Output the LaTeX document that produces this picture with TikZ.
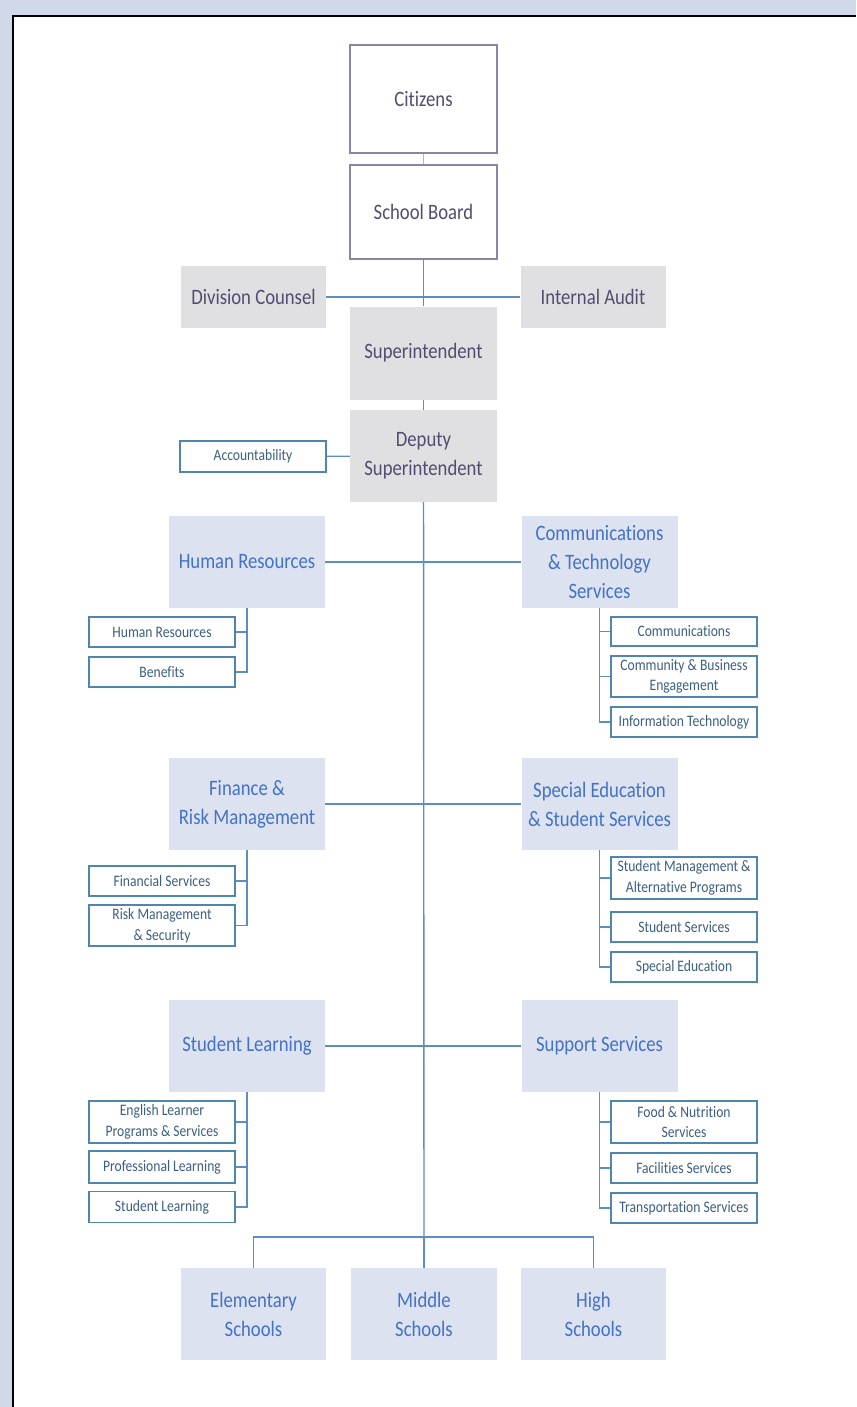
\documentclass[tikz,border=0pt]{standalone}
\usepackage{fontspec}
\setmainfont{Carlito}[FakeStretch=0.85,Ligatures=NoCommon]
\usepackage{tikz}

\definecolor{bgblue}{HTML}{CFD9E9}
\definecolor{purpline}{HTML}{8A84A6}
\definecolor{purptext}{HTML}{524D6E}
\definecolor{greyfill}{HTML}{E0E0E3}
\definecolor{bluefill}{HTML}{DCE2F0}
\definecolor{bluetext}{HTML}{4472C4}
\definecolor{subline}{HTML}{4F86AE}
\definecolor{subtext}{HTML}{3D5F80}
\definecolor{linkblue}{HTML}{5B8FBF}

\begin{document}
\begin{tikzpicture}[x=1pt,y=-1pt]

\tikzset{top/.style = {shape=rectangle,draw=purpline,line width=1.2pt,fill=white,
  text=purptext,font=\fontsize{22}{29}\selectfont,align=center,inner sep=0pt}}
\tikzset{office/.style = {shape=rectangle,fill=greyfill,text=purptext,
  font=\fontsize{22}{29}\selectfont,align=center,inner sep=0pt}}
\tikzset{dept/.style = {shape=rectangle,fill=bluefill,text=bluetext,
  font=\fontsize{22}{29}\selectfont,align=center,inner sep=0pt,
  minimum width=156pt,minimum height=92pt}}
\tikzset{unit/.style = {shape=rectangle,draw=subline,line width=1.2pt,fill=white,text=subtext,
  font=\fontsize{16}{20.5}\selectfont,align=center,inner sep=0pt,minimum width=146pt}}
\tikzset{link/.style = {draw=linkblue,line width=1.4pt}}
\tikzset{twig/.style = {draw=linkblue,line width=1.1pt}}

\useasboundingbox (0,0) rectangle (856,1407);
\fill[bgblue] (0,0) rectangle (856,1407);
\fill[white] (13,16) rectangle (856,1407);
\draw[black,line width=2.5pt] (13,1407) -- (13,16) -- (856,16);

\node[top,minimum width=147pt,minimum height=108pt] (cit) at (423.5,99) {Citizens};
\node[top,minimum width=147pt,minimum height=94pt] (board) at (423.5,212) {School Board};

\node[office,minimum width=145pt,minimum height=62pt] (dc) at (253.5,297) {Division Counsel};
\node[office,minimum width=145pt,minimum height=62pt] (ia) at (593,297) {Internal Audit};
\node[office,minimum width=147pt,minimum height=93pt] (sup) at (423.5,353) {Superintendent};
\node[office,minimum width=147pt,minimum height=92pt] (dep) at (423.5,456) {Deputy\\Superintendent};
\node[unit,minimum height=31pt] (acc) at (253,456.5) {Accountability};

\node[dept] (hr) at (247,562) {Human Resources};
\node[dept] (cts) at (599.5,562) {Communications\\\& Technology\\Services};
\node[unit,minimum height=30pt] (hr1) at (162,632) {Human Resources};
\node[unit,minimum height=30pt] (hr2) at (162,672) {Benefits};
\node[unit,minimum height=29pt] (ct1) at (684,631.5) {Communications};
\node[unit,minimum height=41pt] (ct2) at (684,676.5) {Community \& Business\\Engagement};
\node[unit,minimum height=30pt] (ct3) at (684,722) {Information Technology};

\node[dept] (frm) at (247,804) {Finance \&\\Risk Management};
\node[dept] (sss) at (599.5,804) {Special Education\\\& Student Services};
\node[unit,minimum height=30pt] (fr1) at (162,881) {Financial Services};
\node[unit,minimum height=41pt] (fr2) at (162,925.5) {Risk Management\\\& Security};
\node[unit,minimum height=42pt] (ss1) at (684,878) {Student Management \&\\Alternative Programs};
\node[unit,minimum height=30pt] (ss2) at (684,927) {Student Services};
\node[unit,minimum height=30pt] (ss3) at (684,967) {Special Education};

\node[dept] (sl) at (247,1046) {Student Learning};
\node[dept] (sps) at (599.5,1046) {Support Services};
\node[unit,minimum height=42pt] (sl1) at (162,1122) {English Learner\\Programs \& Services};
\node[unit,minimum height=32pt] (sl2) at (162,1167) {Professional Learning};
\node[unit,minimum height=31pt] (sl3) at (162,1207) {Student Learning};
\node[unit,minimum height=42pt] (sp1) at (684,1122) {Food \& Nutrition\\Services};
\node[unit,minimum height=30pt] (sp2) at (684,1168) {Facilities Services};
\node[unit,minimum height=30pt] (sp3) at (684,1208) {Transportation Services};

\node[dept,minimum width=145pt] (elem) at (253.5,1314) {Elementary\\Schools};
\node[dept,minimum width=146pt] (mid) at (424,1314) {Middle\\Schools};
\node[dept,minimum width=145pt] (high) at (593.5,1314) {High\\Schools};

\coordinate (bar) at (424,1237);

\draw[draw=linkblue!60,line width=1pt] (cit) to (board);
\draw[link] (board) to (sup);
\draw[link] (dc) to (ia);
\draw[link] (sup) to (dep);
\draw[link] (acc) to (dep);
\draw[link] (dep) to (bar);

\draw[link] (hr) to (cts);
\draw[link] (frm) to (sss);
\draw[link] (sl) to (sps);

\draw[twig] (hr.south) |- (hr1.east);
\draw[twig] (hr.south) |- (hr2.east);
\draw[twig] (cts.south) |- (ct1.west);
\draw[twig] (cts.south) |- (ct2.west);
\draw[twig] (cts.south) |- (ct3.west);

\draw[twig] (frm.south) |- (fr1.east);
\draw[twig] (frm.south) |- (fr2.east);
\draw[twig] (sss.south) |- (ss1.west);
\draw[twig] (sss.south) |- (ss2.west);
\draw[twig] (sss.south) |- (ss3.west);

\draw[twig] (sl.south) |- (sl1.east);
\draw[twig] (sl.south) |- (sl2.east);
\draw[twig] (sl.south) |- (sl3.east);
\draw[twig] (sps.south) |- (sp1.west);
\draw[twig] (sps.south) |- (sp2.west);
\draw[twig] (sps.south) |- (sp3.west);

\draw[twig] (bar) -| (elem.north);
\draw[twig] (bar) -- (mid.north);
\draw[twig] (bar) -| (high.north);

\end{tikzpicture}
\end{document}
